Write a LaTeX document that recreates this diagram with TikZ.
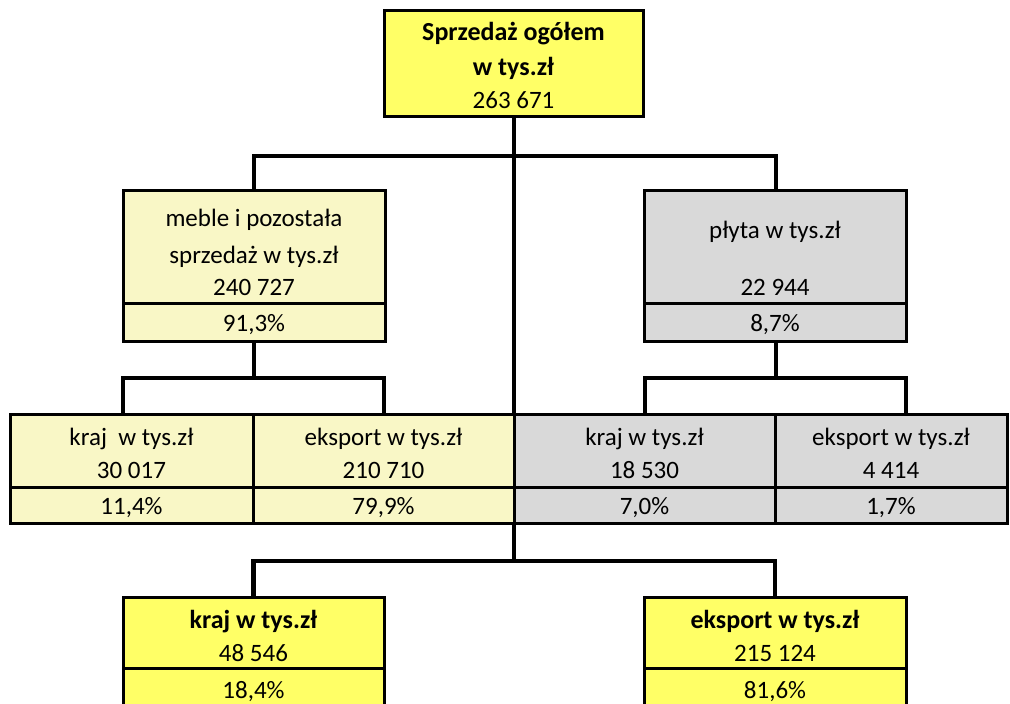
\documentclass[tikz,border=0pt]{standalone}
\usepackage{fontspec}
\setmainfont{Carlito}
\definecolor{topy}{HTML}{FFFF66}
\definecolor{paley}{HTML}{F9F7C6}
\definecolor{greyc}{HTML}{D9D9D9}
\newcommand{\regsize}{\fontsize{25}{29}\selectfont}
\newcommand{\boldsize}{\fontsize{26}{30}\selectfont\bfseries}
\begin{document}
\begin{tikzpicture}[x=1pt,y=-1pt,
  conn/.style={line width=4.5pt, line join=miter},
  cell/.style={draw, line width=3pt, inner sep=0pt, minimum width=#1},
  txt/.style={inner sep=0pt, anchor=base, font=\regsize},
  btxt/.style={inner sep=0pt, anchor=base, font=\boldsize}]
\useasboundingbox (0,0) rectangle (1010,704);
\clip (0,0) rectangle (1010,704);
% junctions
\coordinate (j1) at (514,156);
\coordinate (j2) at (254,378);
\coordinate (j4) at (776,378);
\coordinate (j3) at (514,561);
\coordinate (k1) at (123,414);
\coordinate (k2) at (384,414);
\coordinate (k3) at (645,414);
\coordinate (k4) at (906,414);
% connectors
\draw[conn] (514,116) -- (514,414);
\draw[conn] (254,190) |- (j1) -| (776,190);
\draw[conn] (254,341) -- (j2);
\draw[conn] (k1) |- (j2) -| (k2);
\draw[conn] (776,341) -- (j4);
\draw[conn] (k3) |- (j4) -| (k4);
\draw[conn] (514,523) -- (j3);
\draw[conn] (253.5,597) |- (j3) -| (775,597);
% boxes
\node[cell=259, minimum height=106, fill=topy] (top) at (513.5,63) {};
\node[cell=262, minimum height=113, fill=paley] (m1) at (254,246.5) {};
\node[cell=262, minimum height=38, fill=paley] (m1p) at (254,322) {};
\node[cell=262, minimum height=113, fill=greyc] (m2) at (775,246.5) {};
\node[cell=262, minimum height=38, fill=greyc] (m2p) at (775,322) {};
\node[cell=243, minimum height=73, fill=paley] (r1) at (131.5,450.5) {};
\node[cell=243, minimum height=36, fill=paley] (r1p) at (131.5,505) {};
\node[cell=261, minimum height=73, fill=paley] (r2) at (383.5,450.5) {};
\node[cell=261, minimum height=36, fill=paley] (r2p) at (383.5,505) {};
\node[cell=261, minimum height=73, fill=greyc] (r3) at (644.5,450.5) {};
\node[cell=261, minimum height=36, fill=greyc] (r3p) at (644.5,505) {};
\node[cell=232, minimum height=73, fill=greyc] (r4) at (891,450.5) {};
\node[cell=232, minimum height=36, fill=greyc] (r4p) at (891,505) {};
\node[cell=261, minimum height=71, fill=topy] (b1) at (253.5,632.5) {};
\node[cell=261, minimum height=52, fill=topy] (b1p) at (253.5,694) {};
\node[cell=262, minimum height=71, fill=topy] (b2) at (775,632.5) {};
\node[cell=262, minimum height=52, fill=topy] (b2p) at (775,694) {};
% texts
\node[btxt] (t1) at (513.5,40) {Sprzedaż ogółem};
\node[btxt] (t2) at (513.5,75) {w tys.zł};
\node[txt] (t3) at (513.5,108) {263 671};
\node[txt] (m1a) at (254,226) {meble i pozostała};
\node[txt] (m1b) at (254,263) {sprzedaż w tys.zł};
\node[txt] (m1c) at (254,295) {240 727};
\node[txt] (m1d) at (254,331) {91,3\%};
\node[txt] (m2a) at (775,238) {płyta w tys.zł};
\node[txt] (m2c) at (775,295) {22 944};
\node[txt] (m2d) at (775,331) {8,7\%};
\node[txt] (r1a) at (131.5,445) {kraj\ \ w tys.zł};
\node[txt] (r1b) at (131.5,478) {30 017};
\node[txt] (r1c) at (131.5,514) {11,4\%};
\node[txt] (r2a) at (383.5,445) {eksport w tys.zł};
\node[txt] (r2b) at (383.5,478) {210 710};
\node[txt] (r2c) at (383.5,514) {79,9\%};
\node[txt] (r3a) at (644.5,445) {kraj w tys.zł};
\node[txt] (r3b) at (644.5,478) {18 530};
\node[txt] (r3c) at (644.5,514) {7,0\%};
\node[txt] (r4a) at (891,445) {eksport w tys.zł};
\node[txt] (r4b) at (891,478) {4 414};
\node[txt] (r4c) at (891,514) {1,7\%};
\node[btxt] (b1a) at (253.5,628) {kraj w tys.zł};
\node[txt] (b1b) at (253.5,661) {48 546};
\node[txt] (b1c) at (253.5,698) {18,4\%};
\node[btxt] (b2a) at (775,628) {eksport w tys.zł};
\node[txt] (b2b) at (775,661) {215 124};
\node[txt] (b2c) at (775,698) {81,6\%};
\end{tikzpicture}
\end{document}
